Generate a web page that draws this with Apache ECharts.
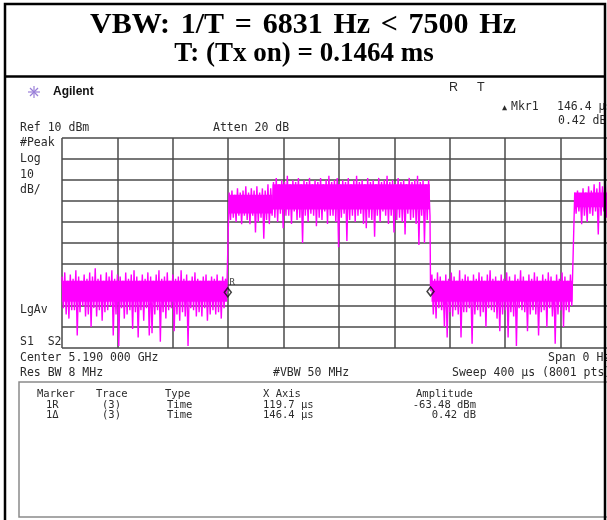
<!DOCTYPE html>
<html>
<head>
<meta charset="utf-8">
<script src="https://cdn.jsdelivr.net/npm/echarts@6/dist/echarts.min.js"></script>
<style>
  html, body { margin: 0; padding: 0; background: #fff; }
  #chart { width: 607px; height: 520px; }
</style>
</head>
<body>
<div id="chart"></div>
<script>
// sweep: 0..400 us, 10 div ; Ref 10 dBm, 10 dB/div
var sweepTicksUs = [0, 40, 80, 120, 160, 200, 240, 280, 320, 360, 400];
var levelTicksDbm = [-90, -80, -70, -60, -50, -40, -30, -20, -10, 0, 10];

// trace, one value per microsecond in each burst segment
var segStartUs = [0, 119.7, 266.1, 369.2];
var sampleUs = 1;

var offA = [
    -56, -71, -54, -74, -58, -76, -55, -72, -57, -72, -53, -84, -56, -73, -58, -70, -55, -75, -57, -74,
    -54, -80, -56, -71, -52, -75, -57, -72, -55, -77, -58, -73, -54, -72, -56, -70, -53, -84, -57, -74,
    -55, -89, -56, -71, -58, -76, -54, -74, -57, -72, -55, -81, -53, -73, -56, -85, -58, -72, -55, -77,
    -57, -71, -54, -84, -56, -83, -58, -74, -55, -72, -53, -87, -57, -73, -56, -76, -54, -72, -58, -71,
    -55, -82, -57, -74, -56, -77, -53, -73, -57, -75, -55, -89, -58, -71, -56, -72, -54, -75, -57, -73,
    -58, -75, -56, -71, -55, -77, -58, -74, -56, -72, -57, -74, -55, -73, -58, -76, -56, -71, -57, -63
];
var onA = [
    -63.5,
    -16, -29, -15, -28, -17, -30, -14, -27, -16, -31, -15, -27, -13, -29, -16, -31, -14, -27, -15, -35,
    -13, -30, -16, -28, -14, -38, -15, -29, -12, -31, -14, -27, -11, -28, -9, -30, -12, -26, -10, -33,
    -11, -27, -8, -27, -12, -31, -10, -25, -11, -29, -9, -28, -12, -40, -10, -27, -11, -30, -9, -26,
    -12, -27, -10, -32, -11, -28, -9, -29, -12, -25, -10, -31, -8, -27, -11, -27, -10, -30, -9, -42,
    -12, -28, -10, -26, -11, -39, -9, -29, -12, -27, -10, -30, -8, -27, -11, -26, -10, -31, -12, -33,
    -9, -28, -11, -29, -10, -37, -12, -27, -9, -30, -11, -25, -10, -27, -8, -31, -11, -27, -10, -35,
    -12, -29, -9, -28, -11, -30, -10, -36, -12, -26, -9, -29, -11, -28, -10, -31, -8, -41, -11, -27,
    -10, -40, -12, -29, -10, -27
];
var offB = [
    -63,
    -55, -74, -57, -76, -54, -71, -56, -72, -58, -80, -55, -85, -57, -73, -54, -75, -56, -72, -58, -74,
    -53, -85, -57, -73, -55, -73, -56, -71, -58, -88, -55, -74, -57, -72, -54, -75, -56, -73, -58, -80,
    -55, -71, -53, -72, -57, -73, -56, -76, -58, -82, -55, -74, -57, -72, -54, -85, -56, -73, -58, -75,
    -55, -89, -57, -71, -53, -72, -56, -73, -58, -82, -55, -74, -57, -72, -54, -74, -56, -84, -58, -73,
    -55, -72, -57, -80, -54, -71, -56, -75, -58, -88, -55, -74, -57, -72, -54, -80, -56, -72, -58, -73,
    -55, -70
];
var onB = [
    -70,
    -16, -26, -15, -25, -17, -31, -14, -27, -16, -30, -13, -26, -15, -27, -12, -25, -14, -36, -11, -27,
    -13, -25, -10, -28, -12, -26, -11, -27, -13, -26
];
var segValues = [offA, onA, offB, onB];

// solid inner core of the noise band: [from us, to us, upper dBm, lower dBm]
var coreBand = [
    [0, 119.2, -58, -68],
    [120.4, 152, -17, -26],
    [152, 265.6, -12, -24],
    [266.8, 368.6, -58, -68],
    [370, 400, -16, -23]
];

// marker table
var markerNames = ['1R', '1\u0394'];
var markerTrace = ['(3)', '(3)'];
var markerType = ['Time', 'Time'];
var markerXUs = [119.7, 146.4];
var markerAmp = [-63.48, 0.42];
var markerUnits = ['dBm', 'dB'];

var heading1 = 'VBW: 1/T = 6831 Hz < 7500 Hz';
var heading2 = 'T: (Tx on) = 0.1464 ms';

var trace = [];
segValues.forEach(function(vals, k) {
    vals.forEach(function(v, i) {
        trace.push([segStartUs[k] + i * sampleUs, v]);
    });
});

// reference marker + delta marker positions on the trace
var markerPts = [
    [markerXUs[0], markerAmp[0]],
    [markerXUs[0] + markerXUs[1], markerAmp[0] + markerAmp[1]]
];

var mono = '"DejaVu Sans Mono", monospace';
var ink = '#2b2b2b';
var headFont = 'bold 30px "Liberation Serif", serif';

function txt(s, x, y, size, extra) {
    var st = {
        text: s,
        font: (size || 11.5) + 'px ' + mono,
        fill: ink,
        verticalAlign: 'middle'
    };
    if (extra) {
        for (var k in extra) st[k] = extra[k];
    }
    return { type: 'text', x: x, y: y, silent: true, z: 10, style: st };
}

function ln(x1, y1, x2, y2, color, w) {
    return {
        type: 'line', silent: true, z: 12,
        shape: { x1: x1, y1: y1, x2: x2, y2: y2 },
        style: { stroke: color, lineWidth: w }
    };
}

var elements = [
    // cell frame
    { type: 'rect', silent: true, z: 20, shape: { x: 5, y: 4, width: 600, height: 540 },
      style: { fill: 'none', stroke: '#000', lineWidth: 2.5 } },
    ln(5, 76.5, 605, 76.5, '#000', 2.5),
    txt(heading2, 304, 54, 27,
        { font: 'bold 27px "Liberation Serif", serif', fill: '#000', align: 'center' }),
    // agilent logo
    ln(28, 92, 40, 92, '#9a7fd8', 1.2),
    ln(34, 86, 34, 98, '#9a7fd8', 1.2),
    ln(30, 88, 38, 96, '#9a7fd8', 1.2),
    ln(30, 96, 38, 88, '#9a7fd8', 1.2),
    txt('Agilent', 53, 92, 12, { font: 'bold 12px "Liberation Sans", Arial, sans-serif', fill: '#111' }),
    txt('R', 449, 88, 12.5, { font: '12.5px "Liberation Sans", sans-serif' }),
    txt('T', 477, 88, 12.5, { font: '12.5px "Liberation Sans", sans-serif' }),
    txt('\u25B2', 502, 108, 8.5),
    txt('Mkr1', 511, 107),
    txt('146.4 \u00B5s', 557, 107),
    txt('0.42 dB', 558, 121),
    txt('Ref 10 dBm', 20, 128),
    txt('Atten 20 dB', 213, 128),
    txt('#Peak', 20, 143),
    txt('Log', 20, 159),
    txt('10', 20, 175),
    txt('dB/', 20, 190),
    txt('LgAv', 20, 310),
    txt('S1  S2', 20, 342),
    txt('Center 5.190 000 GHz', 20, 358),
    txt('Span 0 Hz', 548, 358),
    txt('Res BW 8 MHz', 20, 373),
    txt('#VBW 50 MHz', 273, 373),
    txt('Sweep 400 \u00B5s (8001 pts)', 452, 373),
    // marker table
    { type: 'rect', silent: true, z: 9, shape: { x: 19, y: 382, width: 640, height: 135 },
      style: { fill: 'none', stroke: '#8a8a8a', lineWidth: 1.5 } },
    txt('Marker', 37, 394, 10.5),
    txt('Trace', 96, 394, 10.5),
    txt('Type', 165, 394, 10.5),
    txt('X Axis', 263, 394, 10.5),
    txt('Amplitude', 416, 394, 10.5)
];

// first heading line is set wide in the cell: spread its words over ~426px
(function() {
    var ctx = document.createElement('canvas').getContext('2d');
    ctx.font = headFont;
    var words = heading1.split(' ');
    var widths = words.map(function(w) { return ctx.measureText(w).width; });
    var sum = widths.reduce(function(a, b) { return a + b; }, 0);
    var span = 426;
    var gap = (span - sum) / (words.length - 1);
    var x = 303 - span / 2;
    words.forEach(function(w, i) {
        elements.push(txt(w, x, 25, 30, { font: headFont, fill: '#000' }));
        x += widths[i] + gap;
    });
})();

markerNames.forEach(function(name, i) {
    var y = 405 + i * 10.5;
    var amp = markerAmp[i].toFixed(2) + ' ' + markerUnits[i];
    elements.push(txt(name, 46, y, 10.5));
    elements.push(txt(markerTrace[i], 102, y, 10.5));
    elements.push(txt(markerType[i], 167, y, 10.5));
    elements.push(txt(markerXUs[i].toFixed(1) + ' \u00B5s', 263, y, 10.5));
    elements.push(txt(amp, 476, y, 10.5, { align: 'right' }));
});

var chart = echarts.init(document.getElementById('chart'), null, { renderer: 'canvas' });
var option = {
    animation: false,
    backgroundColor: '#fff',
    grid: {
        left: 62,
        top: 138,
        width: 554,
        height: 210,
        outerBoundsMode: 'none'
    },
    xAxis: {
        type: 'value',
        min: sweepTicksUs[0],
        max: sweepTicksUs[sweepTicksUs.length - 1],
        interval: sweepTicksUs[1] - sweepTicksUs[0],
        axisLine: { show: false },
        axisTick: { show: false },
        axisLabel: { show: false },
        splitLine: { show: true, lineStyle: { color: '#4a4a4a', width: 1.5 } }
    },
    yAxis: {
        type: 'value',
        min: levelTicksDbm[0],
        max: levelTicksDbm[levelTicksDbm.length - 1],
        interval: levelTicksDbm[1] - levelTicksDbm[0],
        axisLine: { show: false },
        axisTick: { show: false },
        axisLabel: { show: false },
        splitLine: { show: true, lineStyle: { color: '#4a4a4a', width: 1.5 } }
    },
    series: [{
        name: 'core',
        type: 'custom',
        data: coreBand,
        renderItem: function(params, api) {
            var p0 = api.coord([api.value(0), api.value(2)]);
            var p1 = api.coord([api.value(1), api.value(3)]);
            return {
                type: 'rect',
                shape: { x: p0[0], y: p0[1], width: p1[0] - p0[0], height: p1[1] - p0[1] },
                style: { fill: '#ff00ff' }
            };
        },
        z: 2
    }, {
        name: 'trace',
        type: 'line',
        data: trace,
        showSymbol: false,
        symbol: 'none',
        sampling: null,
        lineStyle: { color: '#ff00ff', width: 1.4 },
        z: 3
    }, {
        name: 'markers',
        type: 'scatter',
        data: markerPts,
        symbol: 'diamond',
        symbolSize: [7, 9],
        itemStyle: { color: 'rgba(255,255,255,0)', borderColor: '#111', borderWidth: 1.5 },
        label: {
            show: true,
            position: [6, -9],
            fontSize: 9,
            fontFamily: 'DejaVu Sans Mono',
            color: '#111',
            formatter: function(p) { return p.dataIndex === 0 ? 'R' : ''; }
        },
        z: 5
    }],
    graphic: { elements: elements }
};
chart.setOption(option);
</script>
</body>
</html>
